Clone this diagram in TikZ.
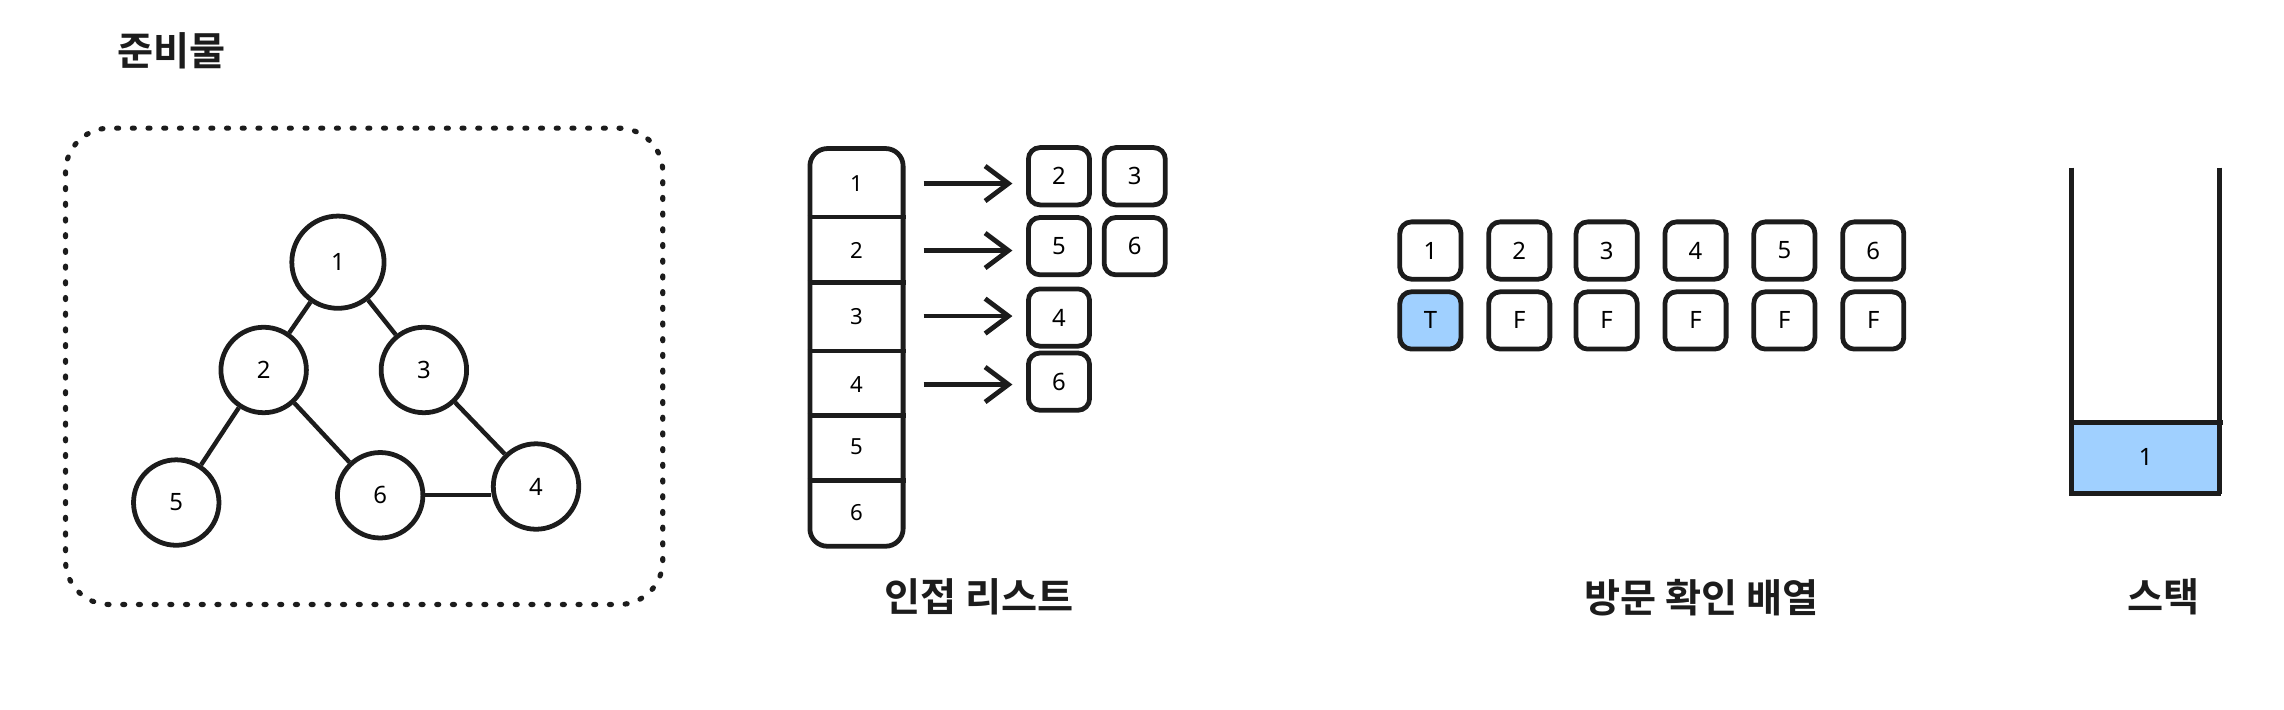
\documentclass[tikz,border=0pt]{standalone}
\usepackage{fontspec}
\setmainfont{Noto Sans}
\newfontfamily\kr{Noto Sans CJK KR}[UprightFont=* Bold]
\usetikzlibrary{arrows.meta}
\definecolor{visblue}{RGB}{160,208,255}
\definecolor{ink}{RGB}{28,28,28}
\begin{document}
\begin{tikzpicture}[x=0.015cm,y=-0.015cm,line width=1.2pt,draw=ink,
  gnode/.style={circle,draw=ink,line width=1.4pt,minimum size=0.88cm,inner sep=0pt,font=\fontsize{7}{8}\selectfont},
  cellbox/.style={draw=ink,line width=1.4pt,rounded corners=0.12cm,minimum width=0.63cm,minimum height=0.59cm,inner sep=0pt,font=\fontsize{7}{8}\selectfont},
  rowlbl/.style={minimum width=0.96cm,inner sep=0pt,font=\fontsize{6.5}{8}\selectfont},
  lbl/.style={font=\kr\fontsize{11.5}{13}\selectfont,text=ink},
  gedge/.style={draw=ink,line width=1.3pt},
  arr/.style={draw=ink,line width=1.4pt,-{Straight Barb[length=2.4mm,width=3.6mm]}},
  dotbox/.style={draw=ink,line width=1.5pt,line cap=round,dash pattern=on 0.6pt off 4pt,rounded corners=0.45cm}]
\useasboundingbox (0,0) rectangle (1568,487);

% title
\node[lbl] (title) at (118,35) {준비물};

% dotted frame
\draw[dotbox] (45,88) rectangle (455,415);

% graph
\node[gnode,minimum size=0.95cm] (n1) at (232,180) {1};
\node[gnode] (n2) at (181,254) {2};
\node[gnode] (n3) at (291,254) {3};
\node[gnode] (n5) at (121,345) {5};
\node[gnode] (n6) at (261,340) {6};
\node[gnode] (n4) at (368,334) {4};
\draw[gedge] (n1) -- (n2);
\draw[gedge] (n1) -- (n3);
\draw[gedge] (n2) -- (n5);
\draw[gedge] (n2) -- (n6);
\draw[gedge] (n3) -- (n4);
\draw[gedge] (n6.east) -- (n6.east -| n4.west);

% adjacency list column
\node[draw=ink,line width=1.4pt,rounded corners=0.18cm,minimum width=0.96cm,minimum height=4.095cm,inner sep=0pt] (col) at (588,238.5) {};
\foreach \yy in {149,194,241,285,330}
  \draw[line width=1.4pt] (col.west |- 0,\yy) -- (col.east |- 0,\yy);
\node[rowlbl] (r1) at (588,126) {1};
\node[rowlbl] (r2) at (588,172) {2};
\node[rowlbl] (r3) at (588,217) {3};
\node[rowlbl] (r4) at (588,264) {4};
\node[rowlbl] (r5) at (588,307) {5};
\node[rowlbl] (r6) at (588,352) {6};

\node[cellbox] (a11) at (727,121) {2};
\node[cellbox] (a12) at (779,121) {3};
\node[cellbox] (a21) at (727,169) {5};
\node[cellbox] (a22) at (779,169) {6};
\node[cellbox] (a31) at (727,218) {4};
\node[cellbox] (a41) at (727,262) {6};

\draw[arr,shorten <=0.19cm,shorten >=0.14cm] (r1.east) -- (r1.east -| a11.west);
\draw[arr,shorten <=0.19cm,shorten >=0.14cm] (r2.east) -- (r2.east -| a21.west);
\draw[arr,shorten <=0.19cm,shorten >=0.14cm] (r3.east) -- (r3.east -| a31.west);
\draw[arr,shorten <=0.19cm,shorten >=0.14cm] (r4.east) -- (r4.east -| a41.west);

% visited array
\foreach \i/\xx in {1/982,2/1043,3/1103,4/1164,5/1225,6/1286}
  \node[cellbox] (v\i) at (\xx,172) {\i};
\node[cellbox,fill=visblue] (t1) at (982,220) {T};
\foreach \i/\xx in {2/1043,3/1103,4/1164,5/1225,6/1286}
  \node[cellbox] (t\i) at (\xx,220) {F};

% stack
\node[fill=visblue,minimum width=1.53cm,minimum height=0.72cm,inner sep=0pt,font=\fontsize{7}{8}\selectfont] (s1) at (1473,314) {1};
\coordinate (stl) at (1422,115);
\coordinate (str) at (1524,115);
\coordinate (sbl) at (1422,339);
\coordinate (sbr) at (1525,339);
\draw[line width=1.5pt] (stl) -- (sbl) -- (sbr);
\draw[line width=1.5pt] (str) -- (1524,339);
\draw[line width=1.5pt] (1422,290) -- (1526,290);

% labels
\node[lbl] (l1) at (672,410) {인접 리스트};
\node[lbl] (l2) at (1168,410) {방문 확인 배열};
\node[lbl] (l3) at (1485,410) {스택};
\end{tikzpicture}
\end{document}
